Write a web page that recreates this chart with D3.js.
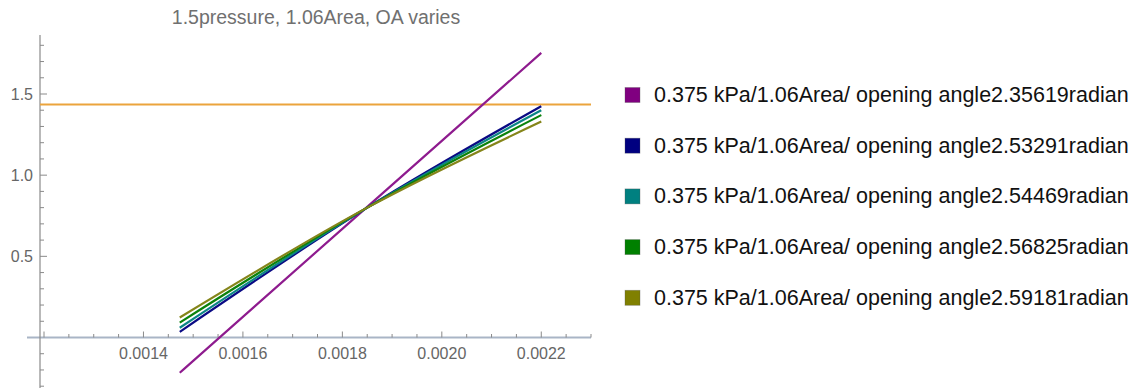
<!DOCTYPE html>
<html>
<head>
<meta charset="utf-8">
<script src="https://cdn.jsdelivr.net/npm/d3@7"></script>
<style>
  body { margin: 0; background: #fff; }
  svg { display: block; font-family: "Liberation Sans", Arial, Helvetica, sans-serif; }
</style>
</head>
<body>
<script>
(function() {
  var W = 1131, H = 388;

  // data
  var title = '1.5pressure, 1.06Area, OA varies';
  var xs = [0.001473, 0.00185, 0.0022];
  var purple = [-0.217, 0.805, 1.753];
  var navy = [0.035, 0.80, 1.425];
  var teal = [0.06, 0.80, 1.40];
  var green = [0.092, 0.80, 1.37];
  var olive = [0.123, 0.80, 1.33];
  var threshold = 1.435;
  var angles = ['2.35619', '2.53291', '2.54469', '2.56825', '2.59181'];
  var xTicks = [0.0014, 0.0016, 0.0018, 0.0020, 0.0022];
  var yTicks = [0.5, 1.0, 1.5];

  var seriesVals = [purple, navy, teal, green, olive];
  var colors = ['#8e1b8e', '#0a0a84', '#0b8585', '#0b820b', '#85851a'];
  var swatch = ['#800080', '#000080', '#008080', '#008000', '#808000'];

  var svg = d3.select('body').append('svg').attr('width', W).attr('height', H);

  var x = d3.scaleLinear().domain([0.0012, 0.0023]).range([44, 591]);
  var y = d3.scaleLinear().domain([0, 1.5]).range([337.5, 94]);

  svg.append('text').attr('x', 316).attr('y', 24).attr('text-anchor', 'middle')
    .attr('fill', '#707070').style('font-size', '19.5px').text(title);

  // x axis
  var xMinor = d3.range(0.0012, 0.00231, 0.00005);
  var gx = svg.append('g');
  gx.append('line').attr('x1', 27).attr('x2', 591).attr('y1', y(0)).attr('y2', y(0))
    .attr('stroke', '#a9b5c6').attr('stroke-width', 2);
  gx.selectAll('line.tk').data(xMinor).enter().append('line').attr('class', 'tk')
    .attr('x1', function(d) { return x(d); }).attr('x2', function(d) { return x(d); })
    .attr('y1', y(0)).attr('y2', function(d, i) { return y(0) - (i % 4 === 0 ? 6 : 3.5); })
    .attr('stroke', '#8a8a8a').attr('stroke-width', 1);
  gx.selectAll('text').data(xTicks).enter().append('text')
    .attr('x', function(d) { return x(d); }).attr('y', 359)
    .attr('text-anchor', 'middle').attr('fill', '#666').style('font-size', '16px')
    .text(function(d) { return d3.format('.4f')(d); });

  // y axis
  var yMinor = d3.range(-3, 19).map(function(i) { return i / 10; });
  var gy = svg.append('g');
  gy.append('line').attr('x1', 40).attr('x2', 40).attr('y1', 35).attr('y2', H)
    .attr('stroke', '#8a8a8a').attr('stroke-width', 1.2);
  gy.selectAll('line.tk').data(yMinor.filter(function(d) { return Math.abs(d) > 1e-9; }))
    .enter().append('line').attr('class', 'tk')
    .attr('x1', 40).attr('x2', function(d) { return 40 + (Math.abs(d * 2 - Math.round(d * 2)) < 1e-6 ? 7 : 4); })
    .attr('y1', function(d) { return y(d); }).attr('y2', function(d) { return y(d); })
    .attr('stroke', '#8a8a8a').attr('stroke-width', 1);
  gy.selectAll('text').data(yTicks).enter().append('text')
    .attr('x', 33).attr('y', function(d) { return y(d) + 5.5; })
    .attr('text-anchor', 'end').attr('fill', '#666').style('font-size', '16px')
    .text(function(d) { return d3.format('.1f')(d); });

  // threshold
  svg.append('line').attr('x1', 40).attr('x2', 591)
    .attr('y1', y(threshold)).attr('y2', y(threshold))
    .attr('stroke', '#eba43c').attr('stroke-width', 2);

  // curves
  var line = d3.line().curve(d3.curveMonotoneX)
    .x(function(d) { return x(d[0]); }).y(function(d) { return y(d[1]); });
  svg.selectAll('path.s').data(seriesVals).enter().append('path').attr('class', 's')
    .attr('d', function(v) { return line(v.map(function(val, i) { return [xs[i], val]; })); })
    .attr('fill', 'none').attr('stroke', function(d, i) { return colors[i]; })
    .attr('stroke-width', 2.2);

  // legend
  var lg = svg.selectAll('g.lg').data(angles).enter().append('g').attr('class', 'lg')
    .attr('transform', function(d, i) { return 'translate(625,' + (95 + i * 50.7) + ')'; });
  lg.append('rect').attr('x', 0).attr('y', -7.5).attr('width', 15).attr('height', 15)
    .attr('fill', function(d, i) { return swatch[i]; })
    .attr('stroke', '#555').attr('stroke-opacity', 0.4).attr('stroke-width', 0.8);
  lg.append('text').attr('x', 29).attr('y', 7).attr('fill', '#111')
    .style('font-size', '21.5px')
    .text(function(d) { return '0.375 kPa/1.06Area/ opening angle' + d + 'radian'; });
})();
</script>
</body>
</html>
